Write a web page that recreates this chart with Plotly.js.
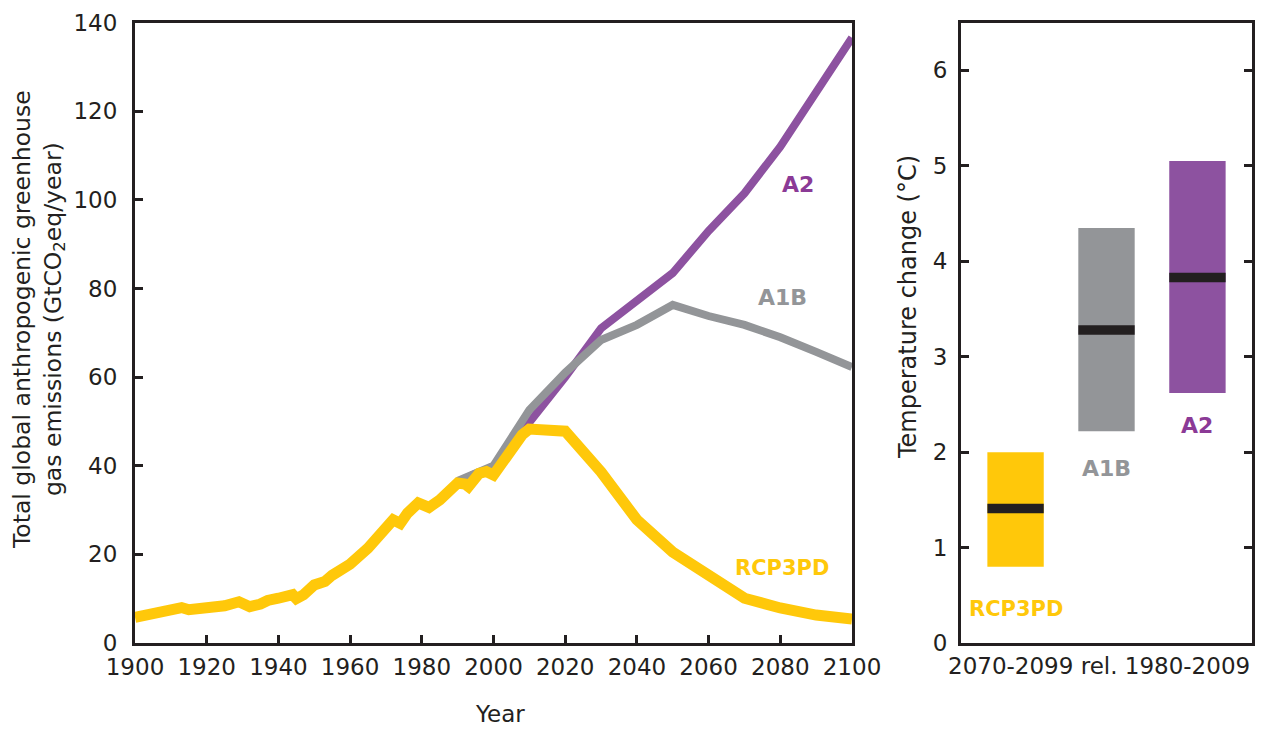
<!DOCTYPE html>
<html><head><meta charset="utf-8">
<script src="https://cdn.plot.ly/plotly-3.0.1.min.js"></script>
<style>html,body{margin:0;padding:0;background:#fff;overflow:hidden}</style>
</head><body><div id="chart" style="width:1262px;height:731px"></div>
<script>
// ---- Emissions (GtCO2eq/year) ----
const histYears = [1900,1905,1910,1913,1915,1920,1925,1929,1932,1935,1937,1940,1944,1945,1947,1950,1953,1955,1960,1965,1970,1972,1974,1976,1979,1982,1985,1988,1990,1992,1993,1996,1998,2000];
const histEmissions = [5.8,6.7,7.4,8.0,7.5,7.7,8.4,9.3,8.2,8.8,9.6,10.1,10.9,10.0,10.9,13.1,13.9,15.3,17.8,21.4,25.5,27.8,27.0,29.3,31.6,30.6,32.3,34.9,36.1,35.9,35.3,38.3,38.7,37.9];
const rcpYears = [2002,2005,2008,2010,2020,2030,2040,2050,2060,2070,2080,2090,2100];
const rcpValues = [40.2,44.0,47.0,48.3,47.8,38.6,27.8,20.5,15.3,10.1,7.9,6.3,5.4];
const scenYears = [1990,1995,2000,2010,2020,2030,2040,2050,2060,2070,2080,2090,2100];
const a1bValues = [36.6,38.4,40.0,52.6,61.0,68.4,71.8,76.3,73.8,71.8,69.0,65.7,62.3];
const a2Values  = [36.3,38.2,39.6,49.6,60.0,71.0,77.4,83.5,93.0,101.5,112.0,124.2,136.6];
const yearTicks = [1900,1920,1940,1960,1980,2000,2020,2040,2060,2080,2100];
const emissionTicks = [0,20,40,60,80,100,120,140];

// ---- Temperature change 2070-2099 rel. 1980-2009 (°C) ----
const tempScenarios = ['RCP3PD','A1B','A2'];
const tempLow = [0.80,2.22,2.62];
const tempHigh = [2.00,4.35,5.05];
const tempMedian = [1.41,3.28,3.83];
const tempTicks = [0,1,2,3,4,5,6];

const YELLOW = '#FFC80A', GRAY = '#939598', PURPLE = '#8D52A0', INK = '#231F20';
const FONT = 'DejaVu Sans';
const medianThickness = 0.1;

const rcpAllYears = histYears.concat(rcpYears);
const rcpAllValues = histEmissions.concat(rcpValues);

const traces = [
  {type:'scatter', mode:'lines', x:scenYears, y:a2Values, name:'A2',
   line:{color:PURPLE, width:8}, xaxis:'x', yaxis:'y'},
  {type:'scatter', mode:'lines', x:scenYears, y:a1bValues, name:'A1B',
   line:{color:GRAY, width:8}, xaxis:'x', yaxis:'y'},
  {type:'scatter', mode:'lines', x:rcpAllYears, y:rcpAllValues, name:'RCP3PD',
   line:{color:YELLOW, width:11}, xaxis:'x', yaxis:'y'},
  {type:'bar', x:tempScenarios, base:tempLow,
   y:tempHigh.map((h,i)=>h-tempLow[i]),
   marker:{color:[YELLOW,GRAY,PURPLE], line:{width:0}}, width:0.62,
   xaxis:'x2', yaxis:'y2', name:'range'},
  {type:'bar', x:tempScenarios, base:tempMedian.map(m=>m-medianThickness/2),
   y:tempMedian.map(()=>medianThickness),
   marker:{color:INK, line:{width:0}}, width:0.62,
   xaxis:'x2', yaxis:'y2', name:'median'}
];

const tickFont = {family:FONT, size:23, color:INK};
const W = 1262, H = 731;
const yDom = [(H-643)/H, (H-22.7)/H];

function note(x, y, text, size, color, extra) {
  return Object.assign({xref:'paper', yref:'paper', x:x/W, y:1-y/H, text:text,
    showarrow:false, xanchor:'center', yanchor:'middle',
    font:{family:FONT, size:size, color:color}}, extra || {});
}

const layout = {
  width:W, height:H, autosize:false,
  margin:{l:0,r:0,t:0,b:0},
  paper_bgcolor:'#fff', plot_bgcolor:'#fff',
  showlegend:false, barmode:'overlay',
  font:{family:FONT, color:INK},
  xaxis:{domain:[135/W, 852/W], range:[1900,2100], tickvals:yearTicks,
    ticks:'inside', ticklen:8, tickwidth:3, tickcolor:INK,
    showline:true, linewidth:3, linecolor:INK, mirror:true,
    showgrid:false, zeroline:false, tickfont:tickFont, ticklabelstandoff:1,
    automargin:false},
  yaxis:{domain:yDom, range:[0,140], tickvals:emissionTicks,
    ticks:'inside', ticklen:8, tickwidth:3, tickcolor:INK,
    showline:true, linewidth:3, linecolor:INK, mirror:true,
    showgrid:false, zeroline:false, tickfont:tickFont, ticklabelstandoff:10,
    automargin:false},
  xaxis2:{domain:[961/W, 1252/W], range:[-0.6,2.6], type:'category',
    showticklabels:false, ticks:'',
    showline:true, linewidth:3, linecolor:INK, mirror:true,
    showgrid:false, zeroline:false, anchor:'y2', automargin:false},
  yaxis2:{domain:yDom, range:[0,6.5], tickvals:tempTicks,
    ticks:'inside', ticklen:8, tickwidth:3, tickcolor:INK,
    showline:true, linewidth:3, linecolor:INK, mirror:'ticks',
    showgrid:false, zeroline:false, tickfont:tickFont, ticklabelstandoff:6,
    anchor:'x2', automargin:false},
  annotations:[
    {xref:'x', yref:'y', x:2084.8, y:103.4, text:'<b>A2</b>', showarrow:false,
     xanchor:'center', yanchor:'middle', font:{family:FONT, size:22, color:'#8B3A96'}},
    {xref:'x', yref:'y', x:2080.6, y:77.9, text:'<b>A1B</b>', showarrow:false,
     xanchor:'center', yanchor:'middle', font:{family:FONT, size:22, color:GRAY}},
    {xref:'x', yref:'y', x:2080.6, y:16.9, text:'<b>RCP3PD</b>', showarrow:false,
     xanchor:'center', yanchor:'middle', font:{family:FONT, size:21, color:YELLOW}},
    {xref:'x2', yref:'y2', x:'RCP3PD', y:0.36, text:'<b>RCP3PD</b>', showarrow:false,
     xanchor:'center', yanchor:'middle', font:{family:FONT, size:21, color:YELLOW}},
    {xref:'x2', yref:'y2', x:'A1B', y:1.83, text:'<b>A1B</b>', showarrow:false,
     xanchor:'center', yanchor:'middle', font:{family:FONT, size:22, color:GRAY}},
    {xref:'x2', yref:'y2', x:'A2', y:2.28, text:'<b>A2</b>', showarrow:false,
     xanchor:'center', yanchor:'middle', font:{family:FONT, size:22, color:'#8B3A96'}},
    note(38, 320, 'Total global anthropogenic greenhouse<br>gas emissions (GtCO<sub>2</sub>eq/year)', 23.5, INK, {textangle:-90}),
    note(500, 714, 'Year', 23, INK),
    note(908, 307, 'Temperature change (°C)', 24, INK, {textangle:-90}),
    note(1099, 666, '2070-2099 rel. 1980-2009', 23, INK)
  ]
};

Plotly.newPlot('chart', traces, layout, {displayModeBar:false, staticPlot:true});
</script>
</body></html>
